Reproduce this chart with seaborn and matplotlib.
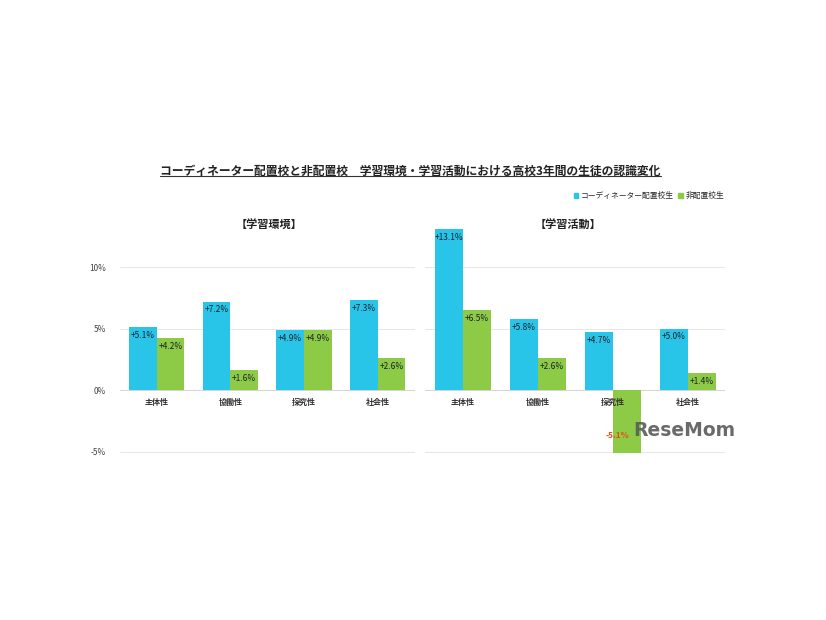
import matplotlib
matplotlib.use("Agg")
import matplotlib.pyplot as plt
from matplotlib.lines import Line2D
from matplotlib.patches import Patch
import seaborn as sns
import pandas as pd

categories = ["主体性", "協働性", "探究性", "社会性"]
series_names = ["コーディネーター配置校生", "非配置校生"]
env_coord = [5.1, 7.2, 4.9, 7.3]
env_non = [4.2, 1.6, 4.9, 2.6]
act_coord = [13.1, 5.8, 4.7, 5.0]
act_non = [6.5, 2.6, -5.1, 1.4]
panel_titles = ["【学習環境】", "【学習活動】"]
yticks = [-5, 0, 5, 10]
ytick_labels = ["-5%", "0%", "5%", "10%"]
title = "コーディネーター配置校と非配置校　学習環境・学習活動における高校3年間の生徒の認識変化"

BLUE = "#29C5E8"
GREEN = "#8DCB47"

sns.set_theme(style="white")
plt.rcParams["font.family"] = ["Noto Sans CJK JP", "DejaVu Sans"]


def make_df(a, b):
    rows = []
    for s, vals in zip(series_names, [a, b]):
        for c, v in zip(categories, vals):
            rows.append({"cat": c, "series": s, "value": v})
    return pd.DataFrame(rows)


fig = plt.figure(figsize=(8.26, 6.2), dpi=100)
ax_bottom = 0.2677
ax_h = 0.367
axes = [fig.add_axes([0.145, ax_bottom, 0.357, ax_h]),
        fig.add_axes([0.515, ax_bottom, 0.363, ax_h])]

datasets = [(env_coord, env_non), (act_coord, act_non)]
for i, (ax, (a, b)) in enumerate(zip(axes, datasets)):
    df = make_df(a, b)
    sns.barplot(data=df, x="cat", y="value", hue="series", order=categories,
                hue_order=series_names, palette=[BLUE, GREEN], width=0.75,
                saturation=1, legend=False, ax=ax, errorbar=None,
                linewidth=0, edgecolor="none")
    ax.set_ylim(-5.2, 13.3)
    ax.set_xlim(-0.5, 3.5)
    ax.set_yticks(yticks)
    for y in yticks:
        ax.axhline(y, color="#e6e6e6" if y != 0 else "#d4d4d4", lw=0.7, zorder=0)
    for sp in ["top", "right", "left"]:
        ax.spines[sp].set_visible(False)
    ax.spines["bottom"].set_position(("data", 0))
    ax.spines["bottom"].set_visible(False)
    ax.tick_params(axis="both", length=0)
    ax.set_xlabel("")
    ax.set_ylabel("")
    ax.set_xticks(range(len(categories)))
    ax.set_xticklabels(categories, fontsize=5.8, fontweight="bold", color="#333333")
    ax.tick_params(axis="x", pad=6)
    ax.xaxis.set_zorder(5)
    if i == 0:
        ax.set_yticklabels(ytick_labels, fontsize=6, color="#444444")
        ax.tick_params(axis="y", pad=10)
    else:
        ax.set_yticklabels([])
    ax.set_facecolor("none")
    for p in ax.patches:
        h = p.get_height()
        if p.get_width() == 0:
            continue
        x = p.get_x() + p.get_width() / 2
        if h >= 0:
            ax.annotate(f"+{h:.1f}%", (x, h), xytext=(0, -6), textcoords="offset points",
                        ha="center", va="center", fontsize=6, color="#1b1f2a")
        else:
            ax.annotate(f"{h:.1f}%", (x, h), xytext=(-6.5, 12.5), textcoords="offset points",
                        ha="center", va="center", fontsize=6, color="#E0501B",
                        fontweight="bold")

fig.text(0.326, 1 - 224 / 620, panel_titles[0], ha="center", va="center",
         fontsize=8, fontweight="bold", color="#222222")
fig.text(0.688, 1 - 224 / 620, panel_titles[1], ha="center", va="center",
         fontsize=8, fontweight="bold", color="#222222")

t = fig.text(0.497, 1 - 171 / 620, title, ha="center", va="center",
             fontsize=8.5, fontweight="bold", color="#222222")
fig.canvas.draw()
bb = t.get_window_extent(fig.canvas.get_renderer()).transformed(fig.transFigure.inverted())
fig.add_artist(Line2D([bb.x0, bb.x1], [bb.y0 + 0.002, bb.y0 + 0.002], color="#333333",
                      lw=0.8, transform=fig.transFigure))

handles = [Patch(color=BLUE, label=series_names[0]), Patch(color=GREEN, label=series_names[1])]
fig.legend(handles=handles, loc="center right", bbox_to_anchor=(0.885, 1 - 196 / 620),
           ncol=2, frameon=False, fontsize=5.6, handlelength=0.6, handleheight=0.6,
           handletextpad=0.3, columnspacing=0.6)

fig.text(633 / 826, 1 - 430 / 620, "ReseMom", ha="left", va="center", fontsize=13.5,
         fontweight="bold", color="#5a5a5a", alpha=0.9, family="DejaVu Sans")

fig.savefig("out.png", dpi=100, facecolor="white")
